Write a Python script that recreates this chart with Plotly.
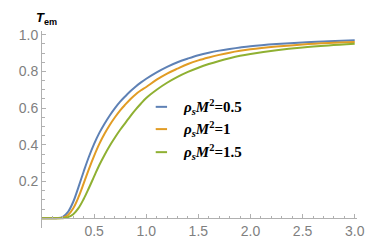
import plotly.graph_objects as go

# data
omega = [0.0, 0.05, 0.1, 0.15, 0.2, 0.25, 0.3, 0.35, 0.4, 0.45, 0.5, 0.55, 0.6, 0.65, 0.7,
         0.75, 0.8, 0.85, 0.9, 0.95, 1.0, 1.1, 1.2, 1.3, 1.4, 1.5, 1.6, 1.7, 1.8, 1.9, 2.0,
         2.25, 2.5, 2.75, 3.0]
t_05 = [0.0, 0.0, 0.0, 0.001, 0.008, 0.035, 0.09, 0.17, 0.255, 0.335, 0.405, 0.465, 0.515,
        0.56, 0.6, 0.635, 0.665, 0.693, 0.718, 0.74, 0.76, 0.795, 0.825, 0.85, 0.87, 0.888,
        0.902, 0.913, 0.922, 0.93, 0.937, 0.949, 0.958, 0.964, 0.969]
t_1 = [0.0, 0.0, 0.0, 0.0, 0.003, 0.018, 0.055, 0.115, 0.19, 0.268, 0.34, 0.405, 0.46,
       0.508, 0.55, 0.588, 0.62, 0.65, 0.676, 0.697, 0.715, 0.755, 0.788, 0.815, 0.84, 0.86,
       0.876, 0.89, 0.902, 0.912, 0.92, 0.935, 0.947, 0.955, 0.96]
t_15 = [0.0, 0.0, 0.0, 0.0, 0.0, 0.006, 0.022, 0.055, 0.105, 0.165, 0.228, 0.29, 0.345,
        0.395, 0.44, 0.482, 0.52, 0.558, 0.593, 0.625, 0.655, 0.7, 0.738, 0.77, 0.797, 0.82,
        0.84, 0.857, 0.872, 0.885, 0.895, 0.915, 0.93, 0.941, 0.95]

series_names = ["<b><i>ρ</i><sub><i>s</i></sub><i>M</i><sup>2</sup>=0.5</b>",
                "<b><i>ρ</i><sub><i>s</i></sub><i>M</i><sup>2</sup>=1</b>",
                "<b><i>ρ</i><sub><i>s</i></sub><i>M</i><sup>2</sup>=1.5</b>"]
series_vals = [t_05, t_1, t_15]
colors = ["#5E81B5", "#E19C24", "#8FB032"]

x_tickvals = [0.5, 1.0, 1.5, 2.0, 2.5, 3.0]
x_ticktext = ["0.5", "1.0", "1.5", "2.0", "2.5", "3.0"]
y_tickvals = [0.2, 0.4, 0.6, 0.8, 1.0]
y_ticktext = ["0.2", "0.4", "0.6", "0.8", "1.0"]

XMAX = 3.022
YMIN, YMAX = -0.053, 1.02

fig = go.Figure()
for name, vals, c in zip(series_names, series_vals, colors):
    fig.add_trace(go.Scatter(x=omega, y=vals, mode="lines", name=name,
                             line=dict(color=c, width=2, shape="spline", smoothing=1.0),
                             showlegend=False))

axis_col = "#b0b0b0"
tick_font = dict(family="Liberation Sans, Arial", size=14, color="#7f7f7f")

fig.update_layout(
    width=374, height=242,
    margin=dict(l=22, r=25, t=23, b=11),
    paper_bgcolor="white", plot_bgcolor="white",
    xaxis=dict(range=[0, XMAX], showgrid=False, zeroline=False,
               showline=True, linecolor=axis_col, linewidth=1,
               anchor="free", position=(0 - YMIN) / (YMAX - YMIN),
               tickmode="array", tickvals=x_tickvals, ticktext=x_ticktext,
               ticks="inside", ticklen=4, tickcolor=axis_col, tickwidth=1,
               minor=dict(dtick=0.1, tick0=0, ticks="inside", ticklen=2.5,
                          tickcolor=axis_col, tickwidth=1),
               tickfont=tick_font),
    yaxis=dict(range=[YMIN, YMAX], showgrid=False, zeroline=False,
               showline=True, linecolor=axis_col, linewidth=1,
               tickmode="array", tickvals=y_tickvals, ticktext=y_ticktext,
               ticks="inside", ticklen=4, tickcolor=axis_col, tickwidth=1,
               minor=dict(dtick=0.05, tick0=0, ticks="inside", ticklen=2.5,
                          tickcolor=axis_col, tickwidth=1),
               tickfont=tick_font),
)

# axis labels
fig.add_annotation(text="<b><i>T</i><sub>em</sub></b>", xref="paper", yref="paper",
                   x=-0.025, y=1.115, xanchor="left", yanchor="top", showarrow=False,
                   font=dict(family="Liberation Sans, Arial", size=13, color="black"))
fig.add_annotation(text="<b><i>ω</i></b>", xref="paper", yref="y",
                   x=1.035, y=0.0, xanchor="left", yanchor="middle", showarrow=False,
                   borderpad=0,
                   font=dict(family="Liberation Sans, Arial", size=13, color="black"))

# manual legend
leg_y = [0.615, 0.502, 0.385]
for name, c, ly in zip(series_names, colors, leg_y):
    fig.add_shape(type="line", xref="paper", yref="paper",
                  x0=0.361, x1=0.397, y0=ly, y1=ly, line=dict(color=c, width=2))
    fig.add_annotation(text=name, xref="paper", yref="paper", x=0.44, y=ly,
                       xanchor="left", yanchor="middle", showarrow=False,
                       font=dict(family="Liberation Serif, Times New Roman", size=15,
                                 color="black"))

fig.write_html("out.html")
